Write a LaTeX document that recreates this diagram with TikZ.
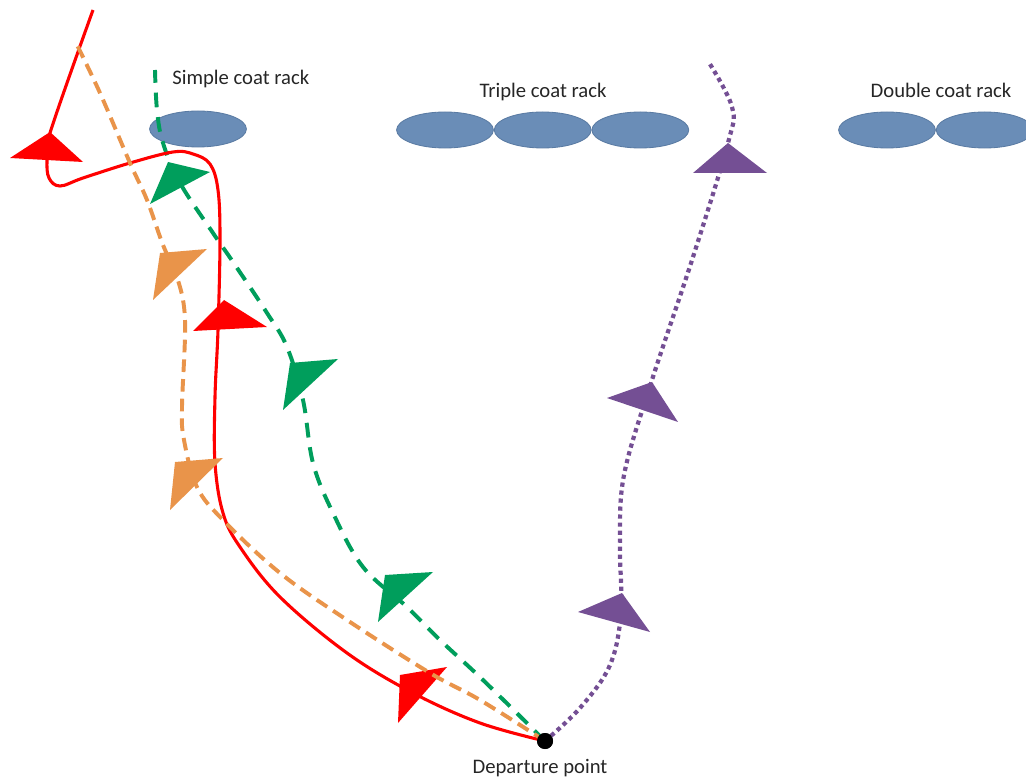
\documentclass[tikz,border=0pt]{standalone}
\usepackage{fontspec}
\setmainfont{Carlito}
\usetikzlibrary{
positioning,
shapes.geometric
}
\definecolor{rackblue}{HTML}{6A8DB7}
\definecolor{rackedge}{HTML}{5A7BA3}
\definecolor{pathred}{HTML}{FF0000}
\definecolor{pathorange}{HTML}{E9944A}
\definecolor{pathgreen}{HTML}{009E5C}
\definecolor{pathpurple}{HTML}{744F94}

\begin{document}
\begin{tikzpicture}[
    x=0.025cm,
    y=-0.025cm,
    font=\fontsize{14.7pt}{17pt}\selectfont,
    rack/.style={
        ellipse,
        draw=rackedge,
        fill=rackblue,
        line width=0.6pt,
        minimum width=2.42cm,
        minimum height=0.9cm,
        inner sep=0pt
    },
    racklabel/.style={
        text=black!85,
        inner sep=0pt
    },
    route/.style={
        smooth,
        tension=0.6
    }
]

% Frame
\useasboundingbox (0,0) rectangle (1026,780);

% Coat racks
\node[rack] (s1) at (198,129) {};

\node[rack] (t1) at (445,130) {};
\node[rack, right=0pt of t1] (t2) {};
\node[rack, right=0pt of t2] (t3) {};

\node[rack] (d1) at (887,130) {};
\node[rack, right=0pt of d1] (d2) {};

% Labels
\node[racklabel, anchor=base west]
at (172,85)
(simplelbl) {Simple coat rack};

\node[racklabel, anchor=base]
at (543,98)
(triplelbl) {Triple coat rack};

\node[racklabel, anchor=base]
at (941,98)
(doublelbl) {Double coat rack};

% Departure point
\node[
    circle,
    fill=black,
    inner sep=0pt,
    minimum size=0.4cm
]
(dep) at (545,741) {};

\node[racklabel, anchor=base]
at (540,773)
(deplbl) {Departure point};

% Green route
\draw[
    pathgreen,
    line width=2.8pt,
    dash pattern=on 10.5pt off 7pt
]
plot[route] coordinates {
(dep.center) (483,680) (440,640) (407,607) (363,567) (333,513)
(313,463) (303,400) (287,347) (267,313) (233,262) (213,233)
(180,183) (163,143) (157,110) (155,70)
};

\foreach \ax/\ay/\bx/\by/\cx/\cy in {
150/204/210/172/168/162,
283/410/338/359/290/363,
378/622/433/572/385/575
}{
    \fill[pathgreen] (\ax,\ay) -- (\bx,\by) -- (\cx,\cy) -- cycle;
}

% Red route
\draw[
    pathred,
    line width=2.2pt
]
plot[route] coordinates {
(dep.center) (480,723) (413,693) (347,653) (280,597) (240,547)
(223,513) (215,463) (215,397) (218,330) (220,240) (218,190)
(210,164) (193,154) (173,152) (130,163) (83,178) (60,186)
(49,178) (47,160) (50,133) (93,10)
};

\foreach \ax/\ay/\bx/\by/\cx/\cy in {
10/158/83/162/50/132,
193/331/267/327/224/300,
398/723/447/667/400/675
}{
    \fill[pathred] (\ax,\ay) -- (\bx,\by) -- (\cx,\cy) -- cycle;
}

% Orange route
\draw[
    pathorange,
    line width=2.8pt,
    dash pattern=on 9pt off 5pt
]
plot[route] coordinates {
(dep.center) (480,700) (430,673) (347,620) (280,573) (223,520)
(197,487) (184,440) (182,407) (185,320) (177,277) (163,245)
(147,200) (130,163) (100,93) (77,45)
};

\foreach \ax/\ay/\bx/\by/\cx/\cy in {
153/300/207/249/160/253,
170/510/223/458/175/462
}{
    \fill[pathorange] (\ax,\ay) -- (\bx,\by) -- (\cx,\cy) -- cycle;
}

% Purple route
\draw[
    pathpurple,
    line width=3pt,
    dash pattern=on 3pt off 2.7pt
]
plot[route] coordinates {
(dep.center) (580,708) (610,665) (621,612) (620,545) (624,475)
(652,380) (693,257) (728,143) (732,107) (708,61)
};

\foreach \ax/\ay/\bx/\by/\cx/\cy in {
693/173/767/173/728/143,
607/398/678/422/652/382,
578/612/650/632/622/593
}{
    \fill[pathpurple] (\ax,\ay) -- (\bx,\by) -- (\cx,\cy) -- cycle;
}

% Dot on top
\fill[black] (dep) circle (8);

\end{tikzpicture}
\end{document}
